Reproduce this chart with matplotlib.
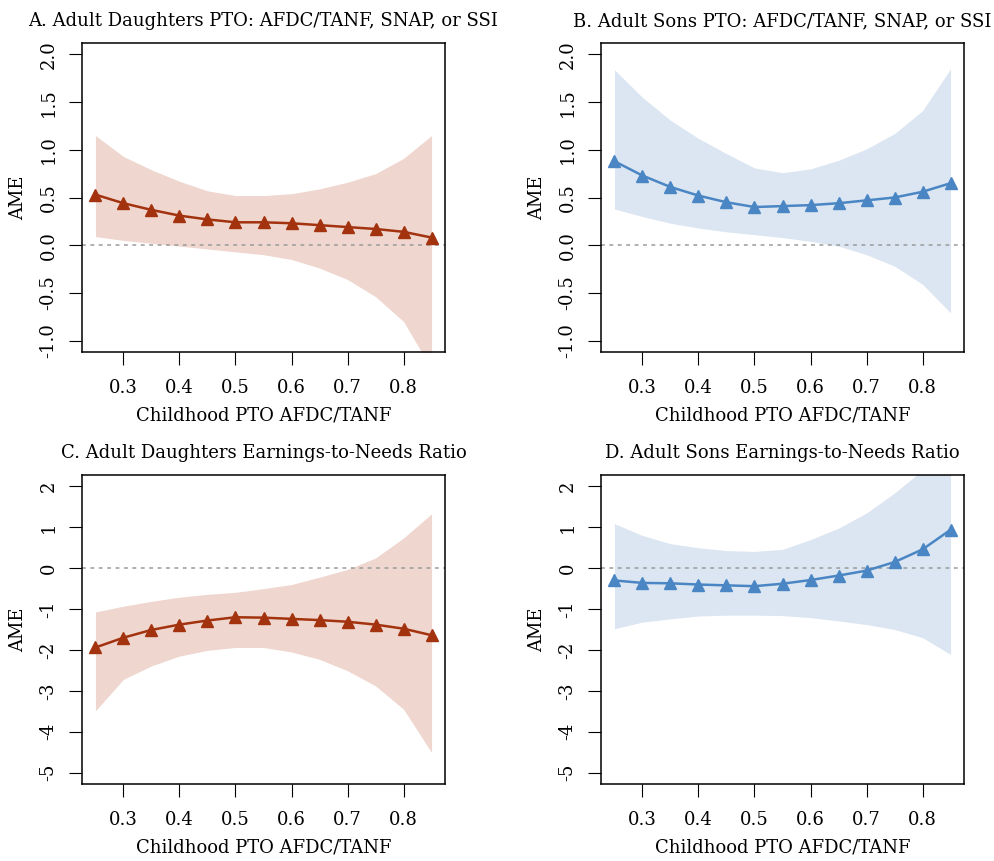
import matplotlib
matplotlib.use("Agg")
import matplotlib.pyplot as plt
import numpy as np

plt.rcParams['font.family'] = ['DejaVu Serif']

# childhood PTO AFDC/TANF grid
pto = [0.25, 0.30, 0.35, 0.40, 0.45, 0.50, 0.55, 0.60, 0.65, 0.70, 0.75, 0.80, 0.85]

# A. daughters, PTO outcome
ame_a = [0.53, 0.44, 0.37, 0.31, 0.27, 0.24, 0.24, 0.23, 0.21, 0.19, 0.17, 0.14, 0.08]
hi_a = [1.15, 0.93, 0.79, 0.67, 0.57, 0.52, 0.52, 0.54, 0.59, 0.66, 0.75, 0.91, 1.15]
lo_a = [0.09, 0.05, 0.02, -0.01, -0.04, -0.07, -0.10, -0.15, -0.24, -0.36, -0.54, -0.80, -1.30]

# B. sons, PTO outcome
ame_b = [0.88, 0.73, 0.61, 0.52, 0.45, 0.40, 0.41, 0.42, 0.44, 0.47, 0.50, 0.56, 0.65]
hi_b = [1.84, 1.55, 1.31, 1.12, 0.96, 0.81, 0.76, 0.80, 0.89, 1.01, 1.17, 1.41, 1.85]
lo_b = [0.38, 0.30, 0.23, 0.18, 0.14, 0.11, 0.08, 0.04, -0.01, -0.10, -0.22, -0.41, -0.71]

# C. daughters, earnings-to-needs
ame_c = [-1.94, -1.70, -1.51, -1.38, -1.28, -1.20, -1.21, -1.24, -1.27, -1.31, -1.38, -1.48, -1.64]
hi_c = [-1.07, -0.93, -0.81, -0.71, -0.64, -0.59, -0.50, -0.40, -0.22, -0.03, 0.25, 0.74, 1.33]
lo_c = [-3.49, -2.72, -2.39, -2.15, -2.01, -1.94, -1.94, -2.05, -2.23, -2.51, -2.88, -3.45, -4.51]

# D. sons, earnings-to-needs
ame_d = [-0.30, -0.36, -0.37, -0.40, -0.42, -0.44, -0.38, -0.29, -0.18, -0.06, 0.15, 0.46, 0.94]
hi_d = [1.09, 0.80, 0.60, 0.50, 0.43, 0.41, 0.46, 0.70, 0.98, 1.35, 1.84, 2.40, 3.30]
lo_d = [-1.48, -1.32, -1.24, -1.17, -1.15, -1.15, -1.16, -1.21, -1.29, -1.38, -1.50, -1.70, -2.11]

titles = ["A. Adult Daughters PTO: AFDC/TANF, SNAP, or SSI",
          "B. Adult Sons PTO: AFDC/TANF, SNAP, or SSI",
          "C. Adult Daughters Earnings-to-Needs Ratio",
          "D. Adult Sons Earnings-to-Needs Ratio"]

red, pink = '#A3330F', '#EFD6CF'
blue, lightblue = '#4A86C4', '#DCE6F2'

panels = [
    (ame_a, hi_a, lo_a, red, pink, (-1.0, 2.0), [-1.0, -0.5, 0.0, 0.5, 1.0, 1.5, 2.0], '%.1f'),
    (ame_b, hi_b, lo_b, blue, lightblue, (-1.0, 2.0), [-1.0, -0.5, 0.0, 0.5, 1.0, 1.5, 2.0], '%.1f'),
    (ame_c, hi_c, lo_c, red, pink, (-5, 2), [-5, -4, -3, -2, -1, 0, 1, 2], '%d'),
    (ame_d, hi_d, lo_d, blue, lightblue, (-5, 2), [-5, -4, -3, -2, -1, 0, 1, 2], '%d'),
]

W, H = 995, 861
fig = plt.figure(figsize=(W / 100, H / 100), dpi=100)
boxes = [(82, 43), (601, 43), (82, 475), (601, 475)]
bw, bh = 363, 309

xticks = [0.3, 0.4, 0.5, 0.6, 0.7, 0.8]

for (left, top), title, (ame, hi, lo, lc, fc, (y0, y1), yt, fmt) in zip(boxes, titles, panels):
    ax = fig.add_axes([left / W, 1 - (top + bh) / H, bw / W, bh / H])
    ax.fill_between(pto, lo, hi, color=fc, lw=0)
    ax.axhline(0, color='#9a9a9a', lw=1.1, ls=(0, (2.5, 3)))
    ax.plot(pto, ame, color=lc, lw=1.8, marker='^', ms=9)
    xr = pto[-1] - pto[0]
    ax.set_xlim(pto[0] - 0.04 * xr, pto[-1] + 0.04 * xr)
    ax.set_ylim(y0 - 0.04 * (y1 - y0), y1 + 0.04 * (y1 - y0))
    ax.set_xticks(xticks)
    ax.set_xticklabels(['%.1f' % v for v in xticks])
    ax.set_yticks(yt)
    ax.set_yticklabels([fmt % v for v in yt], rotation=90, va='center')
    ax.tick_params(length=9.5, width=0.8, labelsize=13)
    ax.tick_params(axis='x', pad=10)
    ax.tick_params(axis='y', pad=8)
    for s in ax.spines.values():
        s.set_linewidth(1.1)
    ax.set_xlabel('Childhood PTO AFDC/TANF', fontsize=13, labelpad=7)
    ax.set_ylabel('AME', fontsize=13, labelpad=9)
    ax.set_title(title, fontsize=13, pad=12)

fig.savefig('out.png', dpi=100)
